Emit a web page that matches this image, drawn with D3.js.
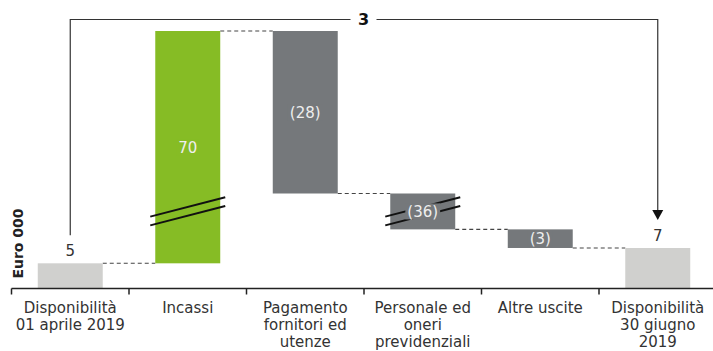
<!DOCTYPE html>
<html>
<head>
<meta charset="utf-8">
<script src="https://cdn.jsdelivr.net/npm/d3@7"></script>
<style>
  html, body { margin: 0; padding: 0; background: #fff; }
  svg { display: block; font-family: "DejaVu Sans", Verdana, sans-serif; }
</style>
</head>
<body>
<svg id="chart" width="713" height="351"></svg>
<script>
// Cash flow bridge, Euro 000 (amounts kept to one decimal, labels rounded)
const categories = [
  ["Disponibilità", "01 aprile 2019"],
  ["Incassi"],
  ["Pagamento", "fornitori ed", "utenze"],
  ["Personale ed", "oneri", "previdenziali"],
  ["Altre uscite"],
  ["Disponibilità", "30 giugno", "2019"]
];
const amounts = [4.6, 70.4, -28.3, -35.9, -3.4, 7.4];
const kinds = ["total", "increase", "decrease", "decrease", "decrease", "total"];
const brokenBars = [false, true, false, true, false, false];
const axisTitle = "Euro 000";

const colors = { total: "#d0d0ce", increase: "#86bc25", decrease: "#75787b" };

const svg = d3.select("#chart");
const W = 713, H = 351;
const axisY = 288.5;

// running levels of the bridge
let level = 0;
const bars = amounts.map((v, i) => {
  let y0, y1;
  if (kinds[i] === "total") { y0 = 0; y1 = v; level = v; }
  else { y0 = level; y1 = level + v; level = y1; }
  return { i, v, kind: kinds[i], lo: Math.min(y0, y1), hi: Math.max(y0, y1), end: y1, broken: brokenBars[i] };
});

// category bands, bars centred in each band
const x = d3.scaleBand().domain(d3.range(categories.length)).range([11.5, 716.5]).padding(0);
const barW = x.bandwidth() * 0.553;
const cx = i => x(i) + x.bandwidth() / 2;

// broken value axis: the stretch between the two break values is collapsed
const breakLow = 14.1, breakHigh = 43.6;
const y = d3.scaleLinear()
  .domain([0, breakLow, breakHigh, d3.max(bars, d => d.hi)])
  .range([axisY, 211.3, 211.3, 31]);

const fmt = d3.format(".0f");
const labelOf = v => v < 0 ? "(" + fmt(-v) + ")" : fmt(v);

// dashed connectors between consecutive bars
const conn = svg.append("g");
bars.slice(0, -1).forEach((b, i) => {
  const lv = b.kind === "total" ? b.hi : b.end;
  conn.append("line")
    .attr("x1", cx(i) + barW / 2).attr("x2", cx(i + 1) - barW / 2)
    .attr("y1", y(lv)).attr("y2", y(lv))
    .attr("stroke", "#444").attr("stroke-width", 1.1)
    .attr("stroke-dasharray", "4,3");
});

// bars
svg.append("g").selectAll("rect").data(bars).join("rect")
  .attr("x", d => cx(d.i) - barW / 2)
  .attr("width", barW)
  .attr("y", d => y(d.hi))
  .attr("height", d => y(d.lo) - y(d.hi))
  .attr("fill", d => colors[d.kind]);

// break marks across the shortened bars
const brk = svg.append("g");
bars.filter(d => d.broken).forEach(d => {
  const half = barW / 2 + 5, rise = 9.7, yc = y(breakLow);
  [-4.4, 4.4].forEach(off => {
    brk.append("line")
      .attr("x1", cx(d.i) - half).attr("x2", cx(d.i) + half)
      .attr("y1", yc + off + rise).attr("y2", yc + off - rise)
      .attr("stroke", "#111").attr("stroke-width", 2);
  });
});

// value labels: inside the movement bars, above the totals
const lab = svg.append("g").attr("font-size", 15);
bars.forEach(d => {
  if (d.kind === "total") {
    lab.append("text")
      .attr("x", cx(d.i)).attr("y", y(d.hi) - 7)
      .attr("text-anchor", "middle").attr("fill", "#333")
      .text(labelOf(d.v));
  } else {
    const ym = (y(d.lo) + y(d.hi)) / 2;
    const t = lab.append("text")
      .attr("x", cx(d.i)).attr("y", ym)
      .attr("dy", "0.36em")
      .attr("text-anchor", "middle").attr("fill", "#eeeeee")
      .text(labelOf(d.v));
    const bb = t.node().getBBox();
    lab.insert("rect", () => t.node())
      .attr("x", bb.x - 2).attr("width", bb.width + 4)
      .attr("y", ym - 8).attr("height", 16)
      .attr("fill", colors[d.kind]);
  }
});

// bottom axis with ticks on the band boundaries
const ax = svg.append("g").attr("stroke", "#222");
ax.append("line").attr("x1", x(0)).attr("x2", W).attr("y1", axisY).attr("y2", axisY).attr("stroke-width", 1.5);
d3.range(categories.length + 1).forEach(i => {
  const tx = i < categories.length ? x(i) : x.range()[1];
  ax.append("line").attr("x1", tx).attr("x2", tx).attr("y1", axisY).attr("y2", axisY + 6).attr("stroke-width", 1.5);
});

// category labels
const cat = svg.append("g").attr("font-size", 15).attr("fill", "#333").attr("text-anchor", "middle");
categories.forEach((lines, i) => {
  const t = cat.append("text").attr("x", cx(i)).attr("y", 312.5);
  lines.forEach((s, k) => t.append("tspan").attr("x", cx(i)).attr("dy", k === 0 ? 0 : 17).text(s));
});

// axis title
svg.append("text")
  .attr("transform", `translate(22.5,${243.5}) rotate(-90)`)
  .attr("text-anchor", "middle")
  .attr("font-size", 14).attr("font-weight", "bold").attr("fill", "#222")
  .text(axisTitle);

// overall change bracket from opening to closing balance
const first = bars[0], last = bars[bars.length - 1];
const change = last.v - first.v;
const topY = 19.5, midX = 363.5, gap = 13;
const br = svg.append("g").attr("fill", "none").attr("stroke", "#333").attr("stroke-width", 1.2);
br.append("path").attr("d", `M${cx(0)},${y(first.hi) - 28}V${topY}H${midX - gap}`);
br.append("path").attr("d", `M${midX + gap},${topY}H${cx(last.i)}V${y(last.hi) - 35}`);
svg.append("path")
  .attr("d", `M${cx(last.i) - 5.5},${y(last.hi) - 38}L${cx(last.i) + 5.5},${y(last.hi) - 38}L${cx(last.i)},${y(last.hi) - 28}Z`)
  .attr("fill", "#111");
svg.append("text")
  .attr("x", midX).attr("y", topY).attr("dy", "0.36em")
  .attr("text-anchor", "middle").attr("font-size", 16).attr("font-weight", "bold").attr("fill", "#111")
  .text(fmt(change));
</script>
</body>
</html>
